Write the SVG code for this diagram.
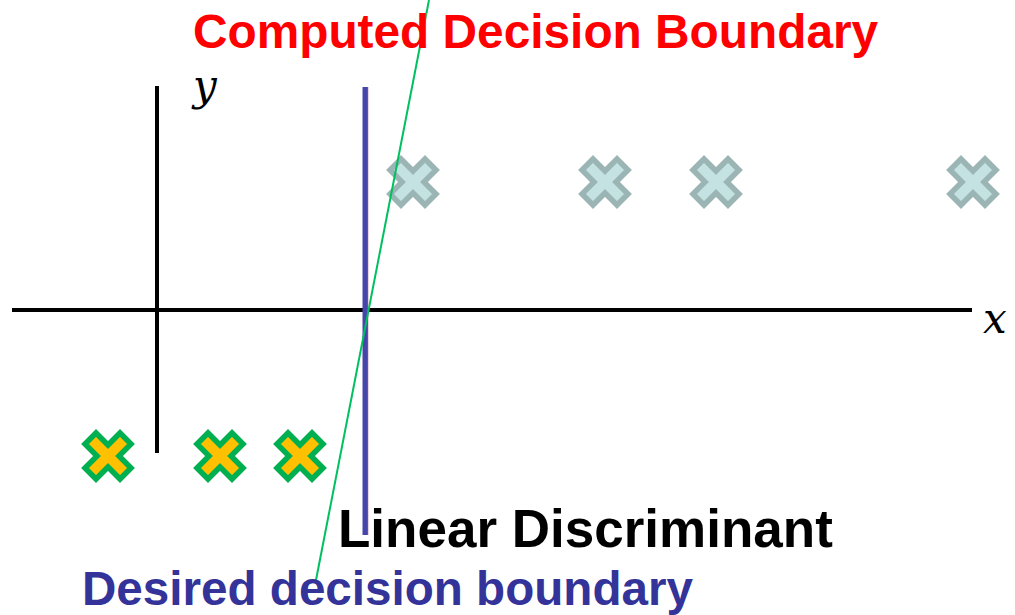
<svg xmlns="http://www.w3.org/2000/svg" width="1015" height="615" viewBox="0 0 1015 615">
<style>
.t{font-family:"Liberation Sans",Arial,sans-serif;font-weight:bold}
.m{font-family:"DejaVu Serif","Liberation Serif",serif;font-style:italic}
.c1{fill:#c4e2e2;stroke:#9bb4b4;stroke-width:5.5;stroke-linejoin:miter}
.c2{fill:#ffc000;stroke:#00b050;stroke-width:5.5;stroke-linejoin:miter}
</style>
<defs>
<polygon id="x" points="0,-11 12,-23 23,-12 11,0 23,12 12,23 0,11 -12,23 -23,12 -11,0 -23,-12 -12,-23"/>
</defs>
<rect width="1015" height="615" fill="#fff"/>
<g id="axes" stroke="#000" stroke-width="4">
<line x1="12" y1="310" x2="972" y2="310"/>
<line x1="157" y1="86" x2="157" y2="453"/>
</g>
<g id="class1">
<use href="#x" class="c1" x="413" y="182"/>
<use href="#x" class="c1" x="605" y="182"/>
<use href="#x" class="c1" x="716" y="182"/>
<use href="#x" class="c1" x="973" y="182"/>
</g>
<g id="class2">
<use href="#x" class="c2" x="108" y="456"/>
<use href="#x" class="c2" x="220" y="456"/>
<use href="#x" class="c2" x="300" y="456"/>
</g>
<g id="connectors">
<line x1="367.5" y1="87" x2="367.5" y2="535" stroke="#b05070" stroke-width="1.5"/>
<line x1="365" y1="87" x2="365" y2="535" stroke="#4646aa" stroke-width="5"/>
<line x1="429" y1="0" x2="316" y2="580" stroke="#00c060" stroke-width="2"/>
</g>
<text class="m" x="193" y="100" font-size="42">y</text>
<text class="m" x="983" y="333" font-size="42">x</text>
<text class="t" x="193" y="48" font-size="47.8" fill="#ff0000">Computed Decision Boundary</text>
<text class="t" x="338" y="547" font-size="53" fill="#000">Linear Discriminant</text>
<text class="t" x="82" y="605" font-size="47.6" fill="#333399">Desired decision boundary</text>
</svg>
